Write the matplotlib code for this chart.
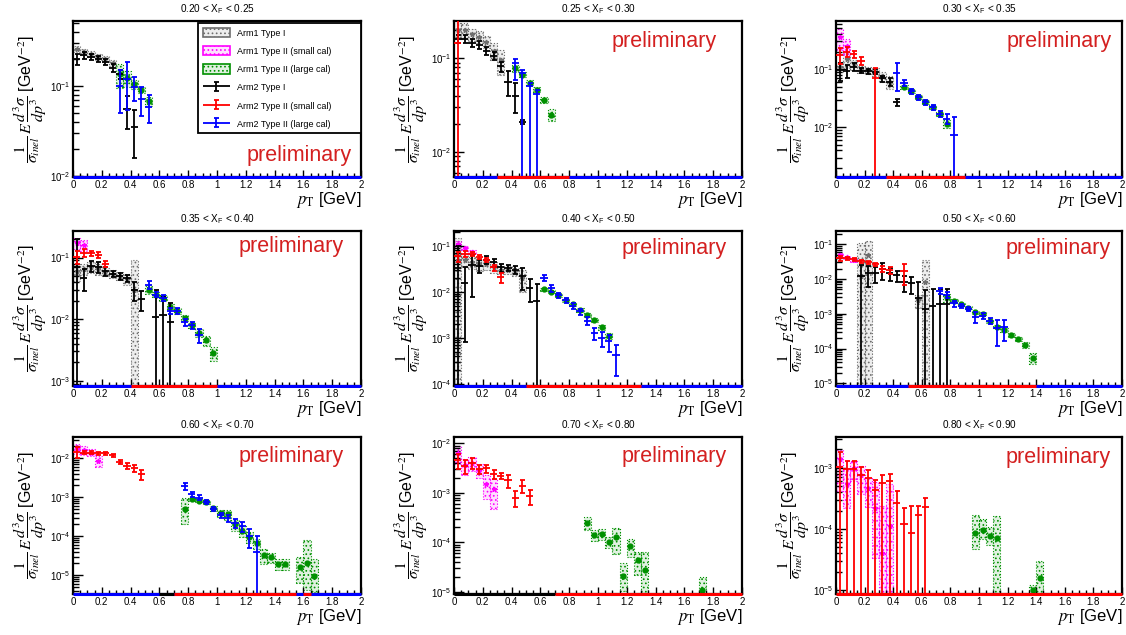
import numpy as np
import matplotlib
matplotlib.use("Agg")
import matplotlib.pyplot as plt
from matplotlib.patches import Patch
from matplotlib.colors import to_rgba
from matplotlib.container import ErrorbarContainer
from matplotlib.legend_handler import HandlerErrorbar
from matplotlib.ticker import MultipleLocator, LogLocator, NullFormatter, FuncFormatter

plt.rcParams['font.family'] = ['Liberation Sans', 'DejaVu Sans']
plt.rcParams['mathtext.fontset'] = 'stix'
plt.rcParams['hatch.linewidth'] = 0.7

# x_F bins of the nine panels
xf_lo = [0.20, 0.25, 0.30, 0.35, 0.40, 0.50, 0.60, 0.70, 0.80]
xf_hi = [0.25, 0.30, 0.35, 0.40, 0.50, 0.60, 0.70, 0.80, 0.90]

# values: x = pT bin centre [GeV], y = cross section,
# up/dn = relative upper/lower uncertainty (dn defaults to up, >=1 means down to zero)

# 0.20 < xF < 0.25
p1_gray = dict(x=[0.025, 0.075, 0.125, 0.175, 0.225, 0.275],
               y=[0.26, 0.24, 0.23, 0.21, 0.2, 0.18], up=[0.08] * 6)
p1_green = dict(x=[0.325, 0.375, 0.425, 0.475, 0.525],
                y=[0.135, 0.122, 0.105, 0.09, 0.068], up=[0.3, 0.2, 0.12, 0.08, 0.12])
p1_black = dict(x=[0.025, 0.075, 0.125, 0.175, 0.225, 0.275, 0.325, 0.375, 0.425],
                y=[0.2, 0.22, 0.21, 0.2, 0.185, 0.16, 0.135, 0.055, 0.035],
                up=[0.15, 0.08, 0.07, 0.07, 0.08, 0.1, 0.12, 0.4, 0.55])
p1_blue = dict(x=[0.325, 0.375, 0.425, 0.475, 0.525],
               y=[0.1, 0.12, 0.097, 0.072, 0.059], up=[0.5, 0.55, 0.3, 0.35, 0.35])
p1_zero = [(0.0, 2.0, 'blue')]

# 0.25 < xF < 0.30
p2_gray = dict(x=[0.025, 0.075, 0.125, 0.175, 0.225, 0.275, 0.325],
               y=[0.2, 0.2, 0.18, 0.17, 0.15, 0.12, 0.095], up=[0.2, 0.2, 0.15, 0.15, 0.15, 0.2, 0.3])
p2_green = dict(x=[0.425, 0.475, 0.525, 0.575, 0.625, 0.675],
                y=[0.078, 0.067, 0.055, 0.046, 0.036, 0.025], up=[0.08, 0.06, 0.06, 0.06, 0.08, 0.15])
p2_black = dict(x=[0.025, 0.075, 0.125, 0.175, 0.225, 0.275, 0.325, 0.375, 0.425, 0.475],
                y=[0.16, 0.16, 0.147, 0.14, 0.12, 0.107, 0.082, 0.056, 0.04, 0.021],
                up=[0.1, 0.1, 0.1, 0.1, 0.1, 0.1, 0.12, 0.3, 0.35, 0.05])
p2_red = dict(x=[0.025], y=[0.147], up=[1.0])
p2_blue = dict(x=[0.425, 0.475, 0.525, 0.575], y=[0.09, 0.07, 0.05, 0.042],
               up=[0.1, 0.08, 0.08, 0.08], dn=[0.35, 1.0, 1.0, 1.0])
p2_zero = [(0.0, 2.0, 'blue'), (0.3, 0.8, 'red')]

# 0.30 < xF < 0.35
p3_magenta = dict(x=[0.025, 0.075], y=[0.35, 0.25], up=[0.4, 0.3])
p3_gray = dict(x=[0.025, 0.075, 0.125, 0.175, 0.225, 0.275, 0.325, 0.375],
               y=[0.11, 0.15, 0.12, 0.1, 0.095, 0.09, 0.075, 0.06],
               up=[0.2, 0.3, 0.2, 0.15, 0.15, 0.15, 0.2, 0.25])
p3_green = dict(x=[0.475, 0.525, 0.575, 0.625, 0.675, 0.725, 0.775],
                y=[0.05, 0.042, 0.033, 0.027, 0.022, 0.017, 0.0115], up=[0.08] * 6 + [0.15])
p3_black = dict(x=[0.025, 0.075, 0.125, 0.175, 0.225, 0.275, 0.325, 0.375, 0.425],
                y=[0.096, 0.094, 0.11, 0.094, 0.092, 0.09, 0.069, 0.06, 0.027],
                up=[0.35, 0.25, 0.15, 0.1, 0.1, 0.1, 0.12, 0.15, 0.15])
p3_red = dict(x=[0.025, 0.075, 0.125, 0.175, 0.275], y=[0.174, 0.2, 0.18, 0.14, 0.069],
              up=[0.3, 0.2, 0.15, 0.15, 0.5], dn=[0.3, 0.2, 0.15, 0.15, 1.0])
p3_blue = dict(x=[0.425, 0.475, 0.525, 0.575, 0.625, 0.675, 0.725, 0.775, 0.825],
               y=[0.084, 0.058, 0.042, 0.033, 0.027, 0.022, 0.017, 0.014, 0.0075],
               up=[0.5, 0.12, 0.1, 0.1, 0.1, 0.1, 0.12, 0.2, 1.0])
p3_zero = [(0.0, 2.0, 'blue'), (0.35, 0.9, 'red')]

# 0.35 < xF < 0.40
p4_magenta = dict(x=[0.025, 0.075], y=[0.17, 0.16], up=[0.2, 0.2])
p4_gray = dict(x=[0.025, 0.075, 0.125, 0.175, 0.225, 0.275, 0.325, 0.375, 0.425],
               y=[0.06, 0.065, 0.07, 0.065, 0.058, 0.055, 0.05, 0.045, 0.03],
               up=[0.3, 0.2, 0.2, 0.2, 0.15, 0.15, 0.15, 0.2, 2.0])
p4_green = dict(x=[0.525, 0.575, 0.625, 0.675, 0.725, 0.775, 0.825, 0.875, 0.925, 0.975],
                y=[0.03, 0.025, 0.022, 0.016, 0.0136, 0.0105, 0.0079, 0.006, 0.0045, 0.0028],
                up=[0.15, 0.1, 0.1, 0.1, 0.1, 0.1, 0.1, 0.15, 0.2, 0.25])
p4_black = dict(x=[0.025, 0.075, 0.125, 0.175, 0.225, 0.275, 0.325, 0.375, 0.425, 0.475,
                   0.575, 0.625, 0.675],
                y=[0.071, 0.047, 0.074, 0.07, 0.06, 0.055, 0.05, 0.046, 0.03, 0.021,
                   0.0108, 0.0115, 0.009],
                up=[1.8, 0.4, 0.2, 0.2, 0.15, 0.12, 0.12, 0.12, 0.35, 0.35, 1.8, 1.0, 1.0],
                dn=[1.0, 0.4, 0.2, 0.2, 0.15, 0.12, 0.12, 0.12, 0.35, 0.35, 1.0, 1.0, 1.0])
p4_red = dict(x=[0.025, 0.075, 0.125, 0.175, 0.225], y=[0.104, 0.118, 0.118, 0.11, 0.079],
              up=[0.25, 0.15, 0.1, 0.1, 0.1])
p4_blue = dict(x=[0.525, 0.575, 0.625, 0.675, 0.725, 0.775, 0.825, 0.875],
               y=[0.036, 0.025, 0.022, 0.0136, 0.0136, 0.0089, 0.0079, 0.0055],
               up=[0.15, 0.1, 0.1, 0.12, 0.1, 0.12, 0.12, 0.25])
p4_zero = [(0.0, 2.0, 'blue'), (0.4, 1.0, 'red')]

# 0.40 < xF < 0.50
p5_magenta = dict(x=[0.025, 0.075, 0.125], y=[0.11, 0.09, 0.075], up=[0.15, 0.1, 0.1])
p5_gray = dict(x=[0.025, 0.075, 0.125, 0.175, 0.225, 0.275, 0.325, 0.375, 0.425, 0.475],
               y=[0.05, 0.05, 0.045, 0.04, 0.04, 0.035, 0.03, 0.03, 0.028, 0.02],
               up=[2.0, 0.3, 0.3, 0.3, 0.25, 0.25, 0.2, 0.2, 0.2, 0.5],
               dn=[1.0, 0.3, 0.3, 0.3, 0.25, 0.25, 0.2, 0.2, 0.2, 0.5])
p5_green = dict(x=[0.625, 0.675, 0.725, 0.775, 0.825, 0.875, 0.925, 0.975, 1.025, 1.075],
                y=[0.0114, 0.0102, 0.0086, 0.0066, 0.0054, 0.004, 0.0031, 0.0025, 0.0017, 0.0011],
                up=[0.08, 0.08, 0.08, 0.08, 0.08, 0.1, 0.1, 0.1, 0.12, 0.15])
p5_black = dict(x=[0.025, 0.075, 0.125, 0.175, 0.225, 0.275, 0.325, 0.375, 0.425, 0.475,
                   0.525, 0.575],
                y=[0.033, 0.016, 0.039, 0.037, 0.05, 0.044, 0.034, 0.033, 0.03, 0.022,
                   0.012, 0.0064],
                up=[2.0, 1.2, 0.6, 0.3, 0.2, 0.2, 0.2, 0.15, 0.2, 0.5, 0.6, 1.3],
                dn=[1.0, 0.95, 0.8, 0.3, 0.2, 0.2, 0.2, 0.15, 0.2, 0.5, 0.5, 1.0])
p5_red = dict(x=[0.025, 0.075, 0.125, 0.175, 0.225, 0.275, 0.325],
              y=[0.06, 0.067, 0.067, 0.057, 0.05, 0.034, 0.021],
              up=[0.25, 0.15, 0.1, 0.1, 0.1, 0.15, 0.25])
p5_blue = dict(x=[0.625, 0.675, 0.725, 0.775, 0.825, 0.875, 0.925, 0.975, 1.025, 1.075, 1.125],
               y=[0.02, 0.012, 0.0085, 0.0066, 0.0049, 0.0038, 0.0024, 0.0013, 0.001, 0.00085, 0.00042],
               up=[0.15, 0.15, 0.12, 0.12, 0.15, 0.15, 0.2, 0.3, 0.35, 0.4, 0.65])
p5_zero = [(0.0, 2.0, 'blue'), (0.5, 1.3, 'red')]

# 0.50 < xF < 0.60
p6_magenta = dict(x=[0.025, 0.075, 0.125], y=[0.05, 0.042, 0.035], up=[0.15, 0.12, 0.12])
p6_gray = dict(x=[0.175, 0.225, 0.575, 0.625], y=[0.012, 0.05, 0.0025, 0.0084],
               up=[8.0, 1.4, 0.4, 3.2], dn=[1.0, 1.0, 0.4, 1.0])
p6_green = dict(x=[0.775, 0.825, 0.875, 0.925, 0.975, 1.025, 1.075, 1.125, 1.175, 1.225,
                   1.275, 1.325, 1.375],
                y=[0.003, 0.0024, 0.0019, 0.0015, 0.0011, 0.001, 0.00062, 0.00042, 0.00035,
                   0.00025, 0.00019, 0.00013, 5.5e-5],
                up=[0.25, 0.1, 0.1, 0.1, 0.1, 0.1, 0.1, 0.1, 0.12, 0.12, 0.15, 0.2, 0.35])
p6_black = dict(x=[0.175, 0.225, 0.275, 0.325, 0.375, 0.425, 0.475, 0.525, 0.575, 0.625,
                   0.675, 0.725, 0.775],
                y=[0.0125, 0.015, 0.015, 0.019, 0.015, 0.013, 0.0084, 0.0076, 0.0028, 0.0014,
                   0.0017, 0.0019, 0.0019],
                up=[1.0, 0.6, 0.5, 0.5, 0.4, 0.35, 0.5, 0.5, 2.0, 2.5, 2.0, 1.8, 1.8],
                dn=[1.0, 0.6, 0.5, 0.5, 0.4, 0.35, 0.5, 0.5, 1.0, 1.0, 1.0, 1.0, 1.0])
p6_red = dict(x=[0.025, 0.075, 0.125, 0.175, 0.225, 0.275, 0.325, 0.375, 0.475],
              y=[0.04, 0.04, 0.037, 0.032, 0.03, 0.027, 0.02, 0.018, 0.017],
              up=[0.15, 0.1, 0.1, 0.1, 0.1, 0.1, 0.2, 0.2, 0.6])
p6_blue = dict(x=[0.725, 0.775, 0.825, 0.875, 0.925, 0.975, 1.025, 1.075, 1.125, 1.175],
               y=[0.0046, 0.0035, 0.002, 0.0017, 0.0014, 0.00083, 0.00087, 0.00062, 0.0004, 0.00042],
               up=[0.2, 0.2, 0.2, 0.15, 0.15, 0.35, 0.2, 0.2, 0.7, 0.6])
p6_zero = [(0.0, 2.0, 'blue'), (0.5, 1.4, 'red')]

# 0.60 < xF < 0.70
p7_magenta = dict(x=[0.025, 0.075, 0.125, 0.175], y=[0.018, 0.016, 0.014, 0.0087],
                  up=[0.3, 0.25, 0.2, 0.3])
p7_green = dict(x=[0.775, 0.825, 0.875, 0.925, 0.975, 1.025, 1.075, 1.125, 1.175, 1.225,
                   1.275, 1.325, 1.375, 1.425, 1.475, 1.575, 1.625, 1.675],
                y=[0.0005, 0.00089, 0.00082, 0.00075, 0.00053, 0.00039, 0.00037, 0.0002, 0.00014,
                   9.6e-5, 6.6e-5, 3.3e-5, 2.9e-5, 1.95e-5, 1.95e-5, 1.6e-5, 2.1e-5, 9.5e-6],
                up=[0.9, 0.1, 0.1, 0.1, 0.15, 0.2, 0.3, 0.3, 0.3, 0.3, 0.3, 0.4, 0.3, 0.3, 0.3,
                    0.8, 2.8, 1.8],
                dn=[0.6, 0.1, 0.1, 0.1, 0.15, 0.2, 0.3, 0.3, 0.3, 0.3, 0.3, 0.4, 0.3, 0.3, 0.3,
                    0.6, 0.8, 0.6])
p7_red = dict(x=[0.025, 0.075, 0.125, 0.175, 0.225, 0.275, 0.325, 0.375, 0.425, 0.475],
              y=[0.0148, 0.014, 0.014, 0.0135, 0.0134, 0.012, 0.0079, 0.0064, 0.0055, 0.0039],
              up=[0.3, 0.1, 0.08, 0.08, 0.08, 0.1, 0.12, 0.15, 0.2, 0.3])
p7_blue = dict(x=[0.775, 0.825, 0.875, 0.925, 0.975, 1.025, 1.075, 1.125, 1.175, 1.225, 1.275],
               y=[0.0019, 0.0012, 0.00098, 0.00077, 0.0005, 0.00035, 0.00029, 0.00022, 0.00018,
                  0.0001, 4e-5],
               up=[0.2, 0.15, 0.15, 0.12, 0.12, 0.15, 0.2, 0.25, 0.3, 0.5, 1.5],
               dn=[0.2, 0.15, 0.15, 0.12, 0.12, 0.15, 0.2, 0.25, 0.3, 0.5, 1.0])
p7_zero = [(0.0, 2.0, 'blue'), (0.6, 0.7, 'black'), (0.7, 1.55, 'red'), (1.6, 1.65, 'red')]

# 0.70 < xF < 0.80
p8_magenta = dict(x=[0.025, 0.075, 0.125, 0.175, 0.225, 0.275],
                  y=[0.0063, 0.0036, 0.004, 0.0029, 0.0015, 0.0012], up=[0.4, 0.35, 0.3, 0.3, 0.5, 0.6])
p8_green = dict(x=[0.925, 0.975, 1.025, 1.075, 1.125, 1.175, 1.225, 1.275, 1.325, 1.725],
                y=[2.5e-4, 1.4e-4, 1.5e-4, 1.0e-4, 1.3e-4, 2.1e-5, 8.5e-5, 4.3e-5, 2.7e-5, 1.1e-5],
                up=[0.3, 0.25, 0.25, 0.25, 0.5, 0.8, 0.4, 0.5, 1.3, 0.8],
                dn=[0.3, 0.25, 0.25, 0.25, 0.55, 0.5, 0.4, 0.5, 0.65, 0.3])
p8_red = dict(x=[0.025, 0.075, 0.125, 0.175, 0.225, 0.275, 0.325, 0.375, 0.425, 0.475, 0.525],
              y=[0.0046, 0.0035, 0.004, 0.003, 0.0031, 0.0024, 0.0022, 0.0018, 0.0008, 0.0014, 0.00086],
              up=[0.35, 0.3, 0.25, 0.2, 0.2, 0.2, 0.15, 0.3, 0.35, 0.3, 0.35])
p8_zero = [(0.0, 0.7, 'black'), (0.7, 2.0, 'red')]

# 0.80 < xF < 0.90
p9_magenta = dict(x=[0.025, 0.075, 0.125, 0.175, 0.225, 0.275, 0.325, 0.375],
                  y=[1.4e-3, 5.5e-4, 1.0e-3, 7.6e-4, 4.6e-4, 2.2e-4, 4e-5, 1.1e-4],
                  up=[0.4, 0.8, 0.3, 0.4, 0.5, 1.7, 5.0, 4.0],
                  dn=[0.7, 0.6, 0.4, 0.5, 0.5, 0.85, 1.0, 1.0])
p9_green = dict(x=[0.975, 1.025, 1.075, 1.125, 1.375, 1.425],
                y=[8.5e-5, 9.6e-5, 7.7e-5, 7e-5, 1e-5, 1.6e-5],
                up=[1.0, 0.5, 0.4, 1.3, 0.2, 0.9], dn=[0.45, 0.3, 0.3, 1.0, 0.2, 1.0])
p9_red = dict(x=[0.025, 0.075, 0.125, 0.175, 0.225, 0.275, 0.325, 0.375, 0.425, 0.475, 0.525,
                 0.575, 0.625],
              y=[1.04e-3, 9.4e-4, 9.4e-4, 7.6e-4, 6.9e-4, 4.4e-4, 5.7e-4, 6.1e-4, 2.7e-4, 1.2e-4,
                 8.7e-5, 1.7e-4, 2.3e-4],
              up=[0.76, 0.38, 0.38, 0.37, 0.36, 0.45, 0.33, 0.31, 0.52, 0.83, 1.76, 0.41, 0.39],
              dn=[1.0] * 13)
p9_zero = [(0.0, 2.0, 'red')]

panels = [
    dict(gray=p1_gray, green=p1_green, black=p1_black, blue=p1_blue, zero=p1_zero),
    dict(gray=p2_gray, green=p2_green, black=p2_black, red=p2_red, blue=p2_blue, zero=p2_zero),
    dict(magenta=p3_magenta, gray=p3_gray, green=p3_green, black=p3_black, red=p3_red,
         blue=p3_blue, zero=p3_zero),
    dict(magenta=p4_magenta, gray=p4_gray, green=p4_green, black=p4_black, red=p4_red,
         blue=p4_blue, zero=p4_zero),
    dict(magenta=p5_magenta, gray=p5_gray, green=p5_green, black=p5_black, red=p5_red,
         blue=p5_blue, zero=p5_zero),
    dict(magenta=p6_magenta, gray=p6_gray, green=p6_green, black=p6_black, red=p6_red,
         blue=p6_blue, zero=p6_zero),
    dict(magenta=p7_magenta, green=p7_green, red=p7_red, blue=p7_blue, zero=p7_zero),
    dict(magenta=p8_magenta, green=p8_green, red=p8_red, zero=p8_zero),
    dict(magenta=p9_magenta, green=p9_green, red=p9_red, zero=p9_zero),
]

# axis ranges and layout (pixels of the 1126x635 canvas)
ylims = [(0.0097, 0.53), (0.0054, 0.25), (0.0014, 0.67), (0.00082, 0.27), (9.1e-5, 0.21),
         (8.4e-6, 0.24), (3.3e-6, 0.035), (9e-6, 0.0134), (8.6e-6, 0.0032)]
col_left = [73, 454, 836]
col_width = [288, 288, 286]
row_top = [21, 231, 437]
row_height = [156, 155, 157]
prelim_xy = [(0.968, 0.14), (0.912, 0.87), (0.964, 0.87), (0.94, 0.9), (0.947, 0.89),
             (0.96, 0.89), (0.94, 0.875), (0.947, 0.875), (0.96, 0.87)]

box_style = {'gray': ('#6e6e6e', '*'), 'magenta': ('#ff00ff', '*'), 'green': ('#009000', 'o')}
bar_style = {'black': 'black', 'red': 'red', 'blue': 'blue'}
labels = {'gray': 'Arm1 Type I', 'magenta': 'Arm1 Type II (small cal)',
          'green': 'Arm1 Type II (large cal)', 'black': 'Arm2 Type I',
          'red': 'Arm2 Type II (small cal)', 'blue': 'Arm2 Type II (large cal)'}

W, H = 1126, 635
fig = plt.figure(figsize=(W / 100, H / 100), dpi=100)

bar_handles = {}
axes = []
for i, p in enumerate(panels):
    r, c = divmod(i, 3)
    ax = fig.add_axes([col_left[c] / W, 1 - (row_top[r] + row_height[r]) / H,
                       col_width[c] / W, row_height[r] / H])
    axes.append(ax)
    ax.set_yscale('log')
    ax.set_xlim(0, 2)
    ax.set_ylim(*ylims[i])

    for key, (col, mk) in box_style.items():
        if key not in p:
            continue
        d = p[key]
        x = np.array(d['x']); y = np.array(d['y'])
        up = np.array(d['up']); dn = np.array(d.get('dn', d['up']))
        lo = np.clip(y * (1 - dn), 1e-12, None)
        hi = y * (1 + up)
        ax.bar(x, hi - lo, bottom=lo, width=0.05, facecolor=to_rgba(col, 0.12),
               edgecolor=col, hatch='....', linewidth=0.8, linestyle=':', zorder=1)
        ax.plot(x, y, ls='none', marker=mk, ms=3.5, color=col, zorder=2)

    for key, col in bar_style.items():
        if key not in p:
            continue
        d = p[key]
        x = np.array(d['x']); y = np.array(d['y'])
        up = np.array(d['up']); dn = np.array(d.get('dn', d['up']))
        lo = np.clip(y * (1 - dn), 1e-12, None)
        hi = y * (1 + up)
        eby = ax.errorbar(x, y, yerr=[y - lo, hi - y], fmt='none', ecolor=col,
                          elinewidth=1.3, capsize=1.8, capthick=1.3, zorder=3)
        ebx = ax.errorbar(x, y, xerr=0.025, fmt='none', ecolor=col, elinewidth=1.3,
                          capsize=0, zorder=3)
        bar_handles.setdefault(key, (eby, ebx))

    ylo = ylims[i][0]
    for x0, x1, col in p['zero']:
        ax.hlines(ylo, x0, x1, colors=col, lw=2.2, zorder=4, clip_on=False)

    ax.set_title(f'{xf_lo[i]:.2f} < X$_\\mathregular{{F}}$ < {xf_hi[i]:.2f}', fontsize=7.2, pad=6)
    ax.text(prelim_xy[i][0], prelim_xy[i][1], 'preliminary', transform=ax.transAxes,
            ha='right', va='center', color='#d42020', fontsize=15.5)

    ax.xaxis.set_major_locator(MultipleLocator(0.2))
    ax.xaxis.set_minor_locator(MultipleLocator(0.05))
    ax.xaxis.set_major_formatter(FuncFormatter(lambda v, pos: f'{v:g}'))
    ax.yaxis.set_major_locator(LogLocator(base=10))
    ax.yaxis.set_minor_locator(LogLocator(base=10, subs=np.arange(2, 10)))
    ax.yaxis.set_minor_formatter(NullFormatter())
    ax.tick_params(axis='both', which='both', direction='in', top=False, right=False,
                   labelsize=7, width=1, pad=2)
    ax.tick_params(axis='x', which='major', length=5)
    ax.tick_params(axis='x', which='minor', length=3)
    ax.tick_params(axis='y', which='major', length=7)
    ax.tick_params(axis='y', which='minor', length=4)
    for s in ax.spines.values():
        s.set_linewidth(1.6)

    ax.set_xlabel(r'$p_{\mathrm{T}}$ [GeV]', fontsize=12, loc='right', labelpad=0)
    ax.set_ylabel(r'$\dfrac{1}{\sigma_{inel}}\,E\,\dfrac{d^{3}\sigma}{dp^{3}}$ [GeV$^{-2}$]',
                  fontsize=11.5)
    ax.yaxis.set_label_coords(-0.085, 0.5)

# legend in the first panel
handles = [Patch(facecolor=to_rgba(box_style[k][0], 0.12), edgecolor=box_style[k][0],
                 hatch='....', linewidth=1.2) for k in ['gray', 'magenta', 'green']]
handles += [bar_handles[k] for k in ['black', 'red', 'blue']]
leg = axes[0].legend(handles, [labels[k] for k in ['gray', 'magenta', 'green', 'black', 'red', 'blue']],
                     loc='upper left', bbox_to_anchor=(0.434, 0.25, 0.566, 0.735), mode='expand',
                     fontsize=6.5, handlelength=3.0, handleheight=1.2, labelspacing=0.95,
                     handletextpad=0.8, borderpad=0.5, borderaxespad=0, fancybox=False,
                     framealpha=1, edgecolor='black',
                     handler_map={ErrorbarContainer: HandlerErrorbar(xerr_size=1.5, yerr_size=0.5)})
leg.get_frame().set_linewidth(1.3)
leg.set_zorder(10)

fig.savefig('out.png', dpi=100)
